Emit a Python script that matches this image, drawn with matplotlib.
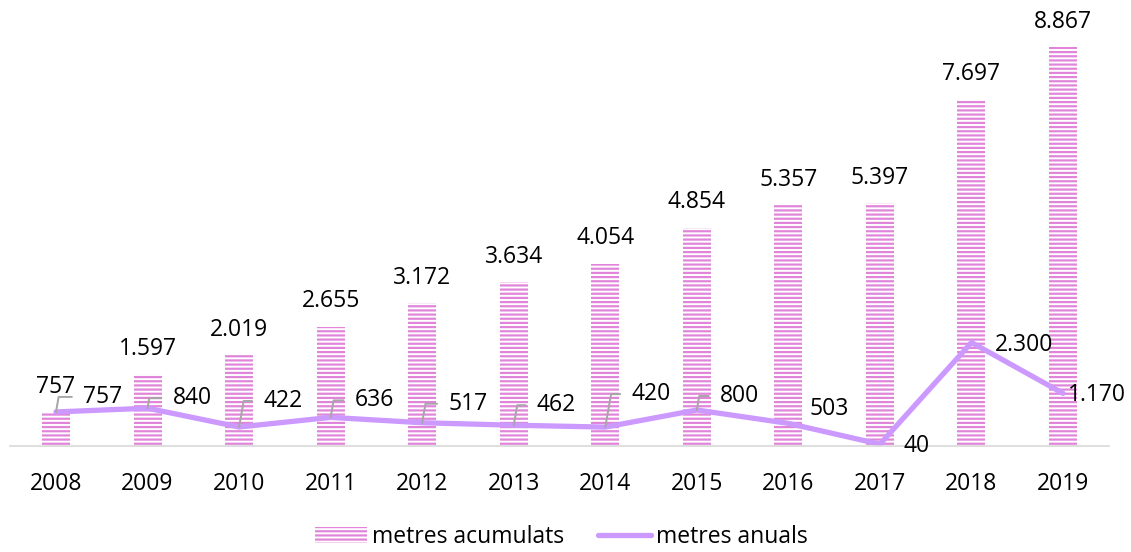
import matplotlib

matplotlib.use("Agg")
import matplotlib.pyplot as plt
import numpy as np

years = ["2008", "2009", "2010", "2011", "2012", "2013",
         "2014", "2015", "2016", "2017", "2018", "2019"]
metres_acumulats = [757, 1597, 2019, 2655, 3172, 3634, 4054, 4854, 5357, 5397, 7697, 8867]
metres_anuals = [757, 840, 422, 636, 517, 462, 420, 800, 503, 40, 2300, 1170]

# label placement for the line series (pixel offsets from the point)
line_label_offsets = [(27, 15), (25, 10), (24, 26), (24, 17), (26, 19), (23, 20),
                      (26, 33), (23, 14), (21, 14), (24, -2), (23, -3), (5, -2)]
has_leader = [True] * 8 + [False] * 4

BAR_COLOR = "#E085DA"
LINE_COLOR = "#CC99FF"
TEXT_COLOR = "#000000"


def fmt(v):
    return f"{v:,}".replace(",", ".")


plt.rcParams["font.family"] = ["Open Sans", "DejaVu Sans"]
plt.rcParams["hatch.linewidth"] = 1.6
plt.rcParams["hatch.color"] = BAR_COLOR

W, H = 1131, 552
fig = plt.figure(figsize=(W / 100, H / 100), dpi=100)
ax = fig.add_axes([10.2 / W, 106 / H, 1098.6 / W, 446 / H])

x = np.arange(len(years))
bars = ax.bar(x, metres_acumulats, width=0.306, facecolor="white",
              edgecolor=BAR_COLOR, linewidth=0, hatch="----",
              label="metres acumulats")
ax.bar_label(bars, labels=[fmt(v) for v in metres_acumulats], padding=9.5,
             fontsize=16.5, color=TEXT_COLOR)

line, = ax.plot(x, metres_anuals, color=LINE_COLOR, linewidth=3.8,
                solid_capstyle="round", solid_joinstyle="miter", label="metres anuals")

for xi, v, (dx, dy), lead in zip(x, metres_anuals, line_label_offsets, has_leader):
    props = None
    if lead:
        props = dict(arrowstyle="-", color="#A6A6A6", lw=1.4,
                     connectionstyle="angle,angleA=0,angleB=80,rad=0",
                     relpos=(0, 0.5), shrinkA=6, shrinkB=0)
    ax.annotate(fmt(v), xy=(xi, v), xytext=(dx, dy), textcoords="offset pixels",
                ha="left", va="center", fontsize=16.5, color=TEXT_COLOR,
                arrowprops=props, annotation_clip=False)

ax.set_xlim(-0.5, len(years) - 0.5)
ax.set_ylim(0, 9911)
ax.set_xticks(x, years)
ax.tick_params(axis="x", length=0, pad=19, labelsize=16.5, labelcolor=TEXT_COLOR)
ax.set_yticks([])
for side in ("left", "right", "top"):
    ax.spines[side].set_visible(False)
ax.spines["bottom"].set_color("#D9D9D9")
ax.spines["bottom"].set_linewidth(1.2)

ax.legend(handles=[bars, line], loc="center", bbox_to_anchor=(561 / W, (H - 537) / H),
          bbox_transform=fig.transFigure, ncol=2, frameon=False, fontsize=16.5,
          handlelength=2.3, handletextpad=0.2, columnspacing=1.5)

fig.savefig("out.png", dpi=100)
